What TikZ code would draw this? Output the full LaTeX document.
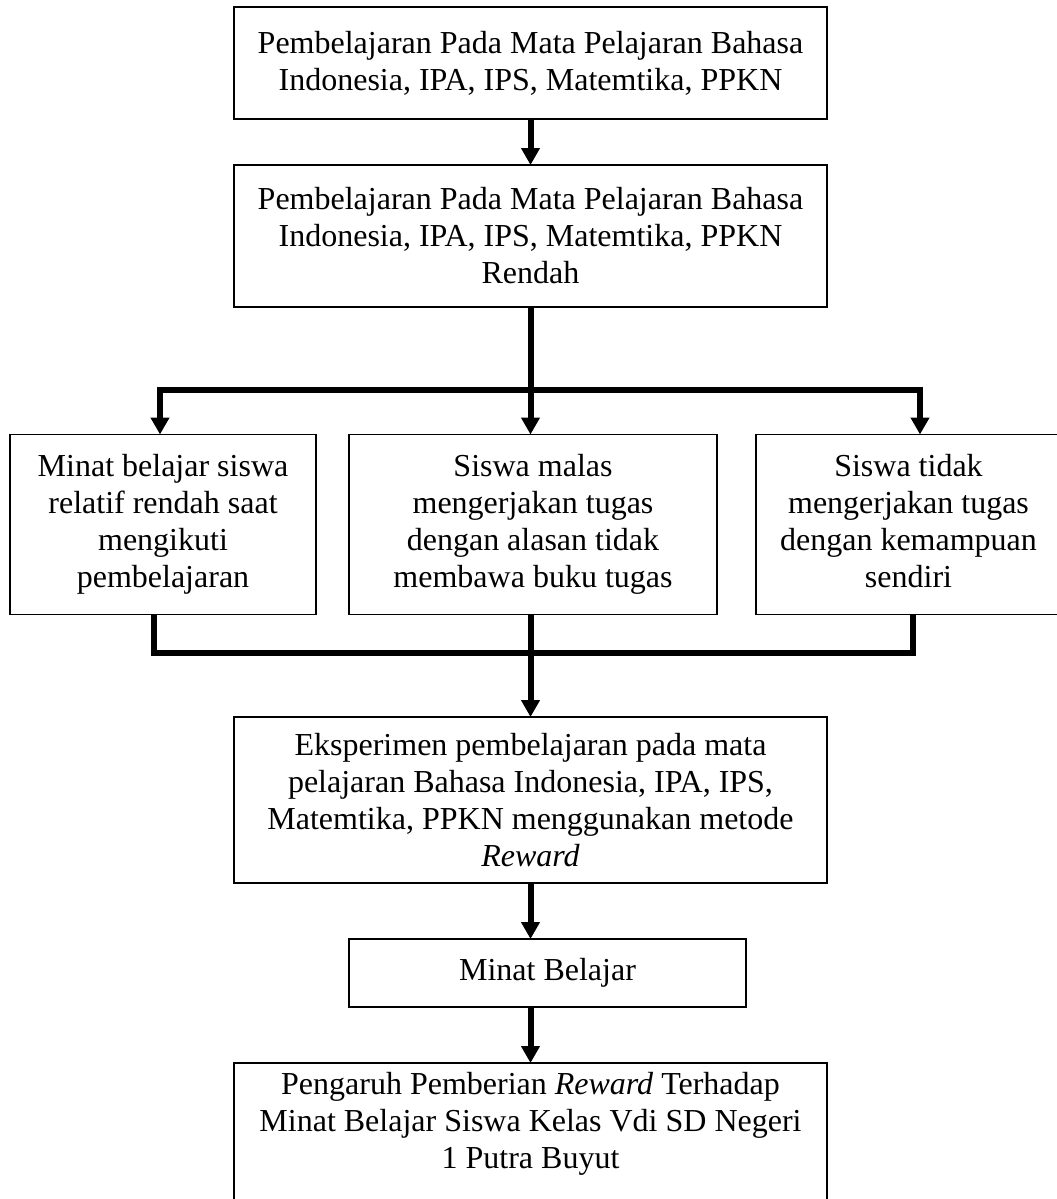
\documentclass[tikz,border=0pt]{standalone}
\usepackage{fontspec}
\setmainfont{Liberation Serif}
\usetikzlibrary{arrows.meta,positioning}

\tikzset{
  kotak/.style={draw, line width=1.6pt, align=center, inner sep=0pt, outer sep=0pt},
  garis/.style={line width=6pt},
  panah/.style={garis, -{Triangle[length=17pt,width=18pt]}},
  cabang/.style={garis, {Triangle[length=17pt,width=18pt]}-{Triangle[length=17pt,width=18pt]}},
}

\begin{document}
\begin{tikzpicture}[x=1pt, y=-1pt, font=\fontsize{32}{37}\selectfont]
  \useasboundingbox (0,0) rectangle (1057,1199);

  \node[kotak, minimum width=593pt, minimum height=112pt] (atas) at (530.5,63)
    {Pembelajaran Pada Mata Pelajaran Bahasa\\Indonesia, IPA, IPS, Matemtika, PPKN};
  \node[kotak, minimum width=593pt, minimum height=142pt] (rendah) at (530.5,236)
    {Pembelajaran Pada Mata Pelajaran Bahasa\\Indonesia, IPA, IPS, Matemtika, PPKN\\Rendah};

  \node[kotak, minimum width=306pt, minimum height=180pt] (minat) at (163,524.5)
    {Minat belajar siswa\\relatif rendah saat\\mengikuti\\pembelajaran};
  \node[kotak, minimum width=368pt, minimum height=180pt] (malas) at (533,524.5)
    {Siswa malas\\mengerjakan tugas\\dengan alasan tidak\\membawa buku tugas};
  \node[kotak, minimum width=305pt, minimum height=180pt] (mampu) at (908.5,524.5)
    {Siswa tidak\\mengerjakan tugas\\dengan kemampuan\\sendiri\vphantom{g}};

  \node[kotak, minimum width=593pt, minimum height=166pt] (eksp) at (530.5,800)
    {Eksperimen pembelajaran pada mata\\pelajaran Bahasa Indonesia, IPA, IPS,\\Matemtika, PPKN menggunakan metode\\\textit{Reward}};
  \node[kotak, minimum width=397pt, minimum height=68pt] (hasil) at (547.5,973)
    {Minat Belajar};
  % kotak terakhir terpotong di bawah
  \node[kotak, minimum width=593pt, anchor=north, inner ysep=9pt, text depth=40pt] (judul) at (530.5,1063)
    {Pengaruh Pemberian \textit{Reward} Terhadap\\Minat Belajar Siswa Kelas Vdi SD Negeri\\1 Putra Buyut};

  % titik sudut garis cabang
  \coordinate (ki1) at (160,390);
  \coordinate (ka1) at (920,390);
  \coordinate (ki2) at (154,653);
  \coordinate (ka2) at (913,653);

  \draw[panah] (atas) -- (rendah);
  \draw[garis] (rendah.south) -- (rendah.south |- ki1);
  \draw[cabang] (minat.north -| ki1) -- (ki1) -- (ka1) -- (mampu.north -| ka1);
  \draw[panah] (rendah.south |- ki1) -- (rendah.south |- malas.north);

  \draw[garis] (minat.south -| ki2) -- (ki2) -- (ka2) -- (mampu.south -| ka2);
  \draw[garis] (eksp.north |- malas.south) -- (eksp.north |- ki2);
  \draw[panah] (eksp.north |- ki2) -- (eksp.north);
  \draw[panah] (eksp) -- (eksp.south |- hasil.north);
  \draw[panah] (eksp.south |- hasil.south) -- (judul.north);
\end{tikzpicture}
\end{document}
